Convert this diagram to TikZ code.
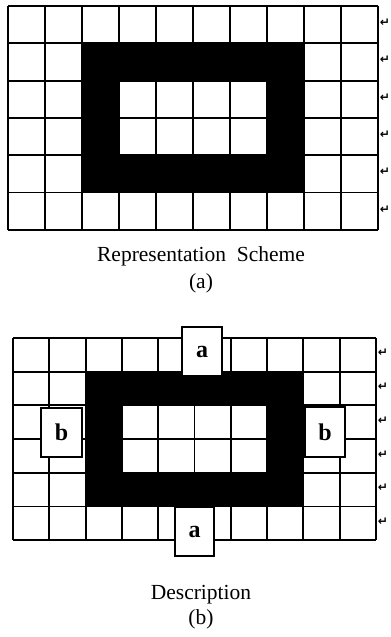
\documentclass[tikz,border=0pt]{standalone}
\usepackage{fontspec}
\setmainfont{Liberation Serif}
\newfontfamily\markfont{DejaVu Sans}

\tikzset{
  gridline/.style={line width=1.9pt, line cap=square},
  cellbox/.style={draw, line width=1.4pt, fill=white, inner sep=0pt,
    font=\bfseries\fontsize{24}{24}\selectfont},
  retmark/.style={inner sep=0pt, font=\markfont\bfseries\fontsize{12}{12}\selectfont},
  caption/.style={inner sep=0pt, font=\fontsize{21.5}{24}\selectfont},
}

% --- Board drawing macro ---
% #1 left edge, #2 top edge, #3 cell width, #4 cell height, #5 name prefix
\newcommand{\drawboard}[5]{
    % black frame (columns 2-7, rows 1-4)
    \fill[black] ({#1+2*#3},{#2+1*#4}) rectangle ({#1+8*#3},{#2+5*#4});
    % white hole in the middle (columns 3-6, rows 2-3)
    \fill[white] ({#1+3*#3},{#2+2*#4}) rectangle ({#1+7*#3},{#2+4*#4});

    % 10 x 6 grid lines
    \foreach \col in {0,...,10}
        \draw[gridline] ({#1+\col*#3},#2) -- ({#1+\col*#3},{#2+6*#4});
    \foreach \row in {0,...,6}
        \draw[gridline] (#1,{#2+\row*#4}) -- ({#1+10*#3},{#2+\row*#4});

    % paragraph marks at the end of every row
    \foreach \row in {0,...,5}
        \node[retmark] (#5ret\row) at ({#1+10*#3+7},{#2+(\row+0.45)*#4}) {↵};
}

\begin{document}
\begin{tikzpicture}[x=1pt,y=-1pt]

% Canvas of the reference (390 x 637), y grows downwards
\path (0,0) rectangle (390,637);

% --- (a) Representation scheme ---
\drawboard{8}{6}{37}{37.3}{top}

\node[caption] (capA) at (201,256) {Representation\ \ Scheme};
\node[caption] (labA) at (201,283) {(a)};

% --- (b) Description ---
\drawboard{13}{338}{36.3}{33.7}{bot}

% the four description tiles
\node[cellbox, minimum width=40pt, minimum height=49pt] (aTop)   at (202,351.5) {a};
\node[cellbox, minimum width=39pt, minimum height=49pt] (aBot)   at (194.5,531.5) {a};
\node[cellbox, minimum width=41pt, minimum height=49pt] (bLeft)  at (61.5,432.5) {b};
\node[cellbox, minimum width=40pt, minimum height=50pt] (bRight) at (325,432) {b};

\node[caption] (capB) at (201,595) {Description};
\node[caption] (labB) at (201,619) {(b)};

\end{tikzpicture}
\end{document}
